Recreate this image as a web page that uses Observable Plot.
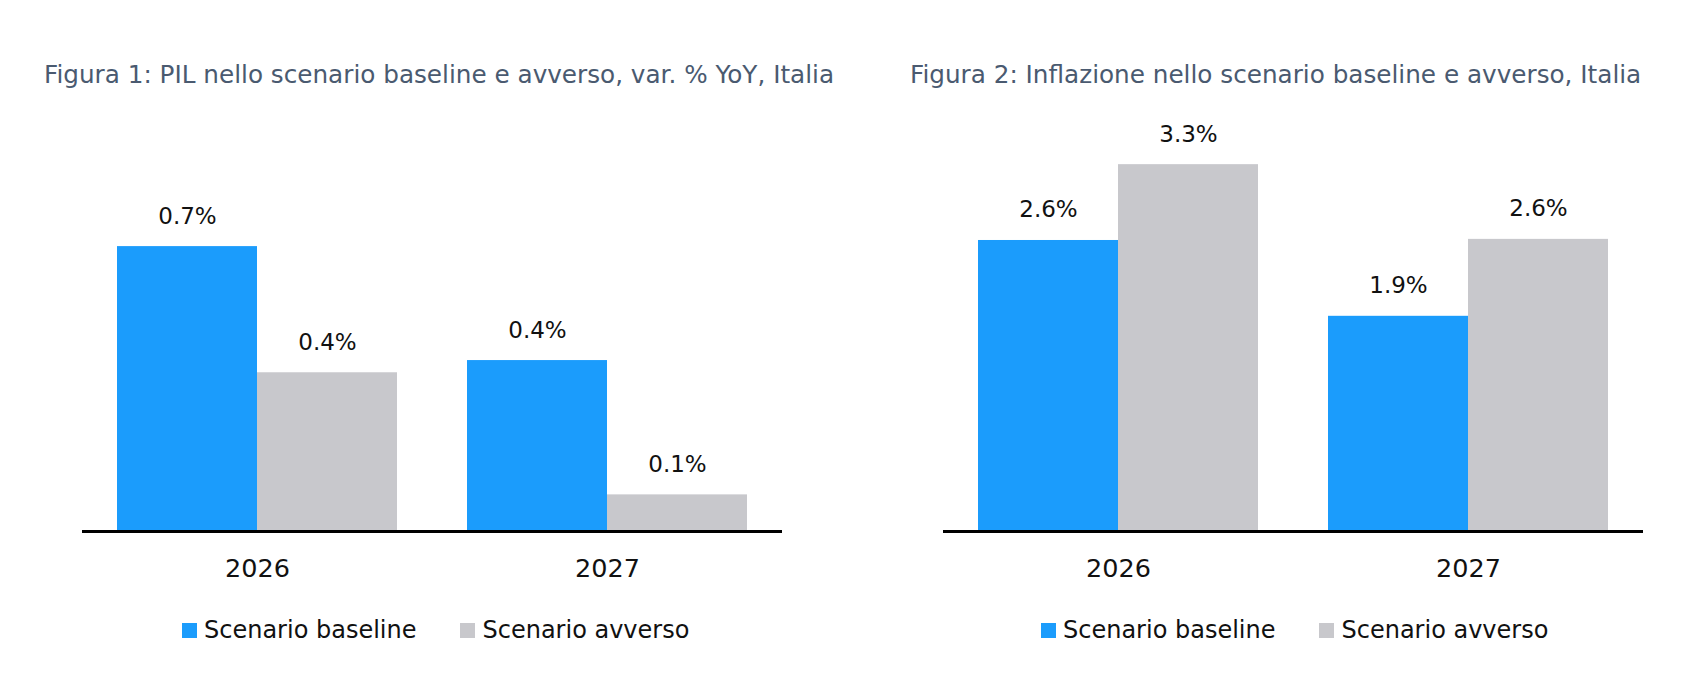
<!DOCTYPE html>
<html>
<head>
<meta charset="utf-8">
<script src="https://cdn.jsdelivr.net/npm/d3@7"></script>
<script src="https://cdn.jsdelivr.net/npm/@observablehq/plot@0.6"></script>
<style>
  html, body { margin: 0; padding: 0; background: #ffffff; }
  body { width: 1704px; height: 685px; overflow: hidden; font-family: "DejaVu Sans", sans-serif; }
  #root { position: relative; width: 1704px; height: 685px; }
  .title { position: absolute; top: 63px; font-size: 24.7px; line-height: 24px; color: #4a5a70; white-space: nowrap; }
  .plot { position: absolute; top: 100px; }
  .legend { position: absolute; top: 618px; font-size: 24px; line-height: 24px; color: #111; white-space: nowrap; }
  .legend .item { display: inline-block; }
  .legend .sw { display: inline-block; width: 15px; height: 15px; margin-right: 7px; vertical-align: baseline; }
</style>
</head>
<body>
<div id="root"></div>
<script>
// ---- data ----
const years = ["2026", "2027"];
const scenarios = ["Scenario baseline", "Scenario avverso"];
const colors = ["#1b9cfc", "#c8c8cc"];
const titles = [
  "Figura 1: PIL nello scenario baseline e avverso, var. % YoY, Italia",
  "Figura 2: Inflazione nello scenario baseline e avverso, Italia"
];
const pilBaseline = [0.70, 0.42];
const pilAvverso = [0.39, 0.09];
const inflBaseline = [2.61, 1.93];
const inflAvverso = [3.29, 2.62];

const fmt = d3.format(".1f");
function rows(base, adv) {
  return years.flatMap((y, i) => [
    {year: y, scenario: scenarios[0], value: base[i]},
    {year: y, scenario: scenarios[1], value: adv[i]}
  ]);
}

const root = document.getElementById("root");

function panel(opts) {
  const t = document.createElement("div");
  t.className = "title";
  t.style.left = opts.titleLeft + "px";
  t.textContent = opts.title;
  root.appendChild(t);

  const data = rows(opts.base, opts.adv);
  const y0 = 431;
  const chart = Plot.plot({
    width: 852,
    height: 490,
    marginLeft: opts.ml,
    marginRight: opts.mr,
    marginTop: 0,
    marginBottom: 490 - y0,
    style: {fontFamily: "DejaVu Sans", background: "transparent", overflow: "visible", color: "#111"},
    fx: {domain: years, padding: 0, label: null},
    x: {domain: scenarios, paddingInner: 0, paddingOuter: 0.25, axis: null},
    y: {domain: [0, 1], range: [y0, y0 - opts.unit], axis: null},
    color: {domain: scenarios, range: colors},
    marks: [
      Plot.barY(data, {fx: "year", x: "scenario", y: "value", fill: "scenario"}),
      Plot.text(data, {fx: "year", x: "scenario", y: "value", text: d => fmt(d.value) + "%",
        lineAnchor: "bottom", dy: -23, fontSize: 23, fill: "#111"}),
      Plot.ruleY([0], {stroke: "#000", strokeWidth: 3}),
      Plot.axisFx({anchor: "bottom", tickSize: 0, tickPadding: 27, fontSize: 25.5, label: null, fill: "#111"})
    ]
  });
  const wrap = document.createElement("div");
  wrap.className = "plot";
  wrap.style.left = opts.left + "px";
  wrap.appendChild(chart);
  root.appendChild(wrap);

  const lg = document.createElement("div");
  lg.className = "legend";
  lg.style.left = opts.legendLeft + "px";
  scenarios.forEach((s, i) => {
    const it = document.createElement("span");
    it.className = "item";
    if (i > 0) it.style.marginLeft = "44px";
    const sw = document.createElement("span");
    sw.className = "sw";
    sw.style.background = colors[i];
    it.appendChild(sw);
    it.appendChild(document.createTextNode(s));
    lg.appendChild(it);
  });
  root.appendChild(lg);
}

panel({title: titles[0], titleLeft: 44, left: 0, ml: 81, mr: 70, unit: 407,
  base: pilBaseline, adv: pilAvverso, legendLeft: 182});
panel({title: titles[1], titleLeft: 910, left: 852, ml: 90, mr: 61, unit: 111.5,
  base: inflBaseline, adv: inflAvverso, legendLeft: 1041});
</script>
</body>
</html>
